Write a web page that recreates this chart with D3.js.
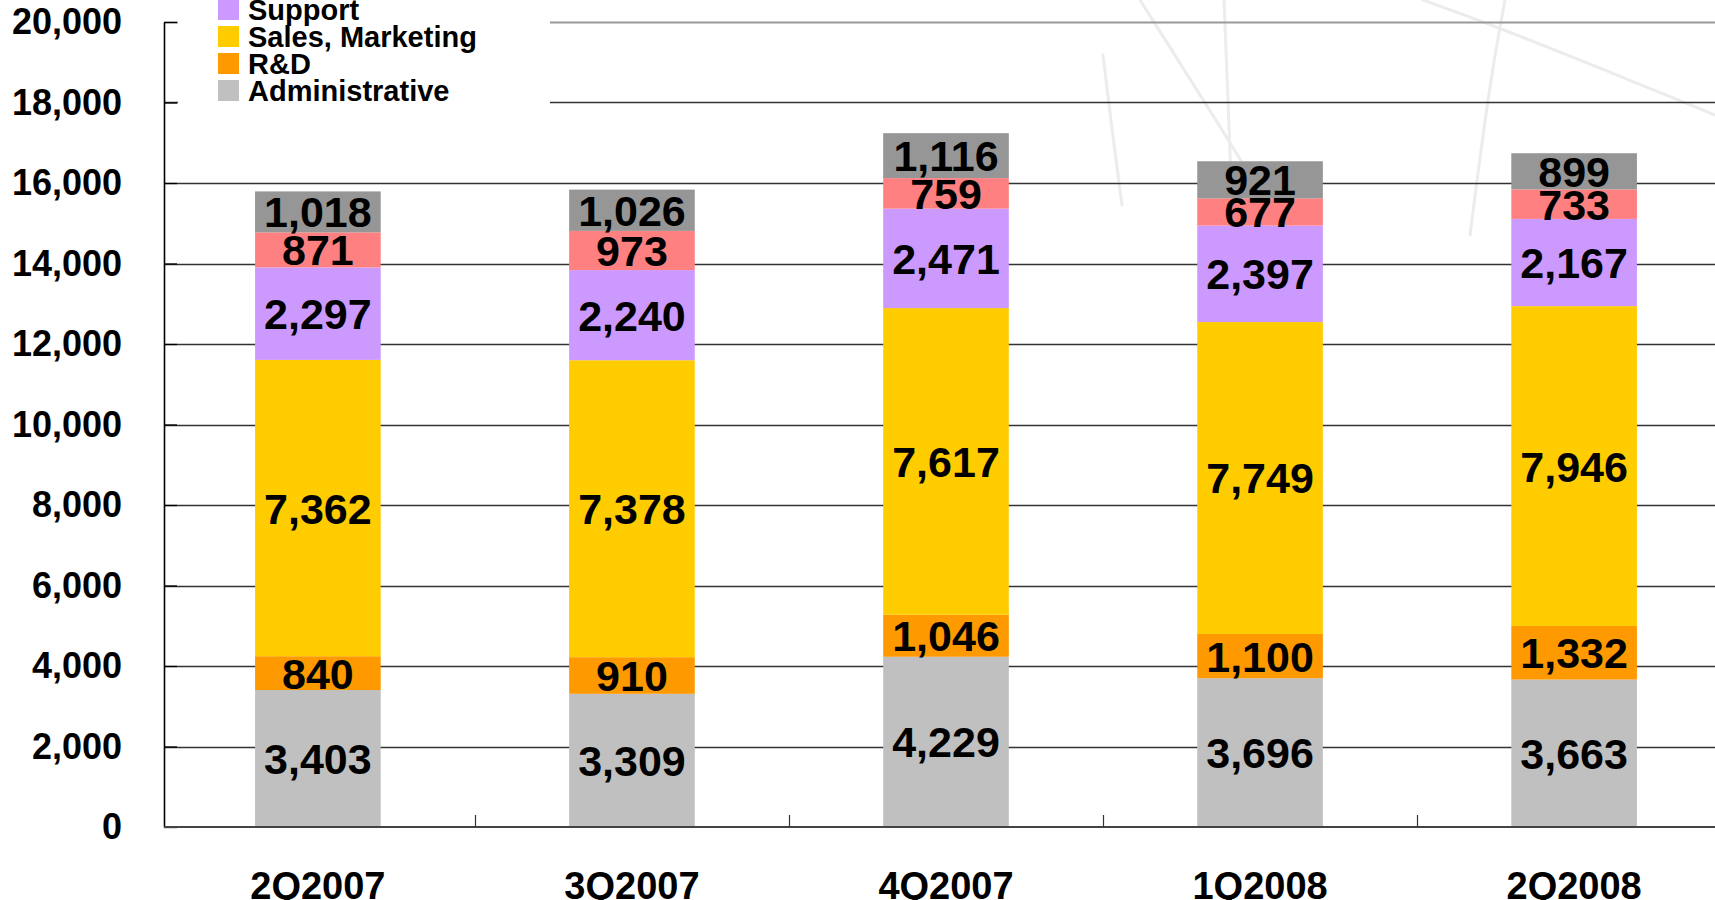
<!DOCTYPE html>
<html>
<head>
<meta charset="utf-8">
<script src="https://cdn.jsdelivr.net/npm/d3@7"></script>
<style>
  html, body { margin: 0; padding: 0; background: #fff; }
  svg { display: block; }
  text { font-family: "Liberation Sans", Arial, sans-serif; font-weight: bold; fill: #000; }
</style>
</head>
<body>
<svg id="chart" width="1715" height="900"></svg>
<script>
// ---- data ----
const categories = ["2Q2007", "3Q2007", "4Q2007", "1Q2008", "2Q2008"];
const administrative = [3403, 3309, 4229, 3696, 3663];
const rnd            = [840, 910, 1046, 1100, 1332];
const salesMarketing = [7362, 7378, 7617, 7749, 7946];
const support        = [2297, 2240, 2471, 2397, 2167];
const seriesPink     = [871, 973, 759, 677, 733];   // legend entry cut off in source
const seriesGrey     = [1018, 1026, 1116, 921, 899]; // legend entry cut off in source
const yTicks = [0, 2000, 4000, 6000, 8000, 10000, 12000, 14000, 16000, 18000, 20000];

const seriesKeys   = ["Administrative", "R&D", "Sales, Marketing", "Support", "S5", "S6"];
const seriesValues = [administrative, rnd, salesMarketing, support, seriesPink, seriesGrey];
const seriesColors = ["#C0C0C0", "#FF9900", "#FFCC00", "#CC99FF", "#FF8080", "#969696"];
const legendKeys   = ["Support", "Sales, Marketing", "R&D", "Administrative"];

// decorative background strokes (watermark)
const bgStrokes = [
  [[1423, 0], [1500, 28], [1600, 68], [1715, 115]],
  [[1505, 0], [1490, 80], [1470, 235]],
  [[1140, 0], [1210, 110], [1290, 240]],
  [[1224, 0], [1228, 100], [1232, 205]],
  [[1103, 55], [1112, 130], [1122, 205]]
];

// ---- build table ----
const table = categories.map((c, i) => {
  const row = { category: c };
  seriesKeys.forEach((k, j) => row[k] = seriesValues[j][i]);
  return row;
});
const stacked = d3.stack().keys(seriesKeys)(table);
const color = d3.scaleOrdinal().domain(seriesKeys).range(seriesColors);

// ---- layout ----
const svg = d3.select("#chart");
const x0 = 164, x1 = 1728, xRight = 1715;
const x = d3.scaleBand().domain(categories).range([x0, x1]).paddingInner(0.6).paddingOuter(0.29);
const y = d3.scaleLinear().domain([0, 20000]).range([827, 22]);

// background strokes
svg.append("g").selectAll("path").data(bgStrokes).join("path")
  .attr("d", d3.line().curve(d3.curveBasis))
  .attr("fill", "none").attr("stroke", "#ececec").attr("stroke-width", 3)
  .attr("stroke-linecap", "round");

// gridlines
svg.append("g").selectAll("line").data(yTicks.filter(d => d > 0)).join("line")
  .attr("x1", x0).attr("x2", xRight)
  .attr("y1", d => Math.round(y(d)) + 0.5).attr("y2", d => Math.round(y(d)) + 0.5)
  .attr("stroke", d => d === 20000 ? "#999" : "#333")
  .attr("stroke-width", d => d === 20000 ? 2 : 1.3);

// legend background (covers gridlines)
svg.append("rect").attr("x", 178).attr("y", 0).attr("width", 372).attr("height", 112).attr("fill", "#fff");

// bars
const layers = svg.append("g").selectAll("g").data(stacked).join("g")
  .attr("fill", d => color(d.key));
layers.selectAll("rect").data(d => d).join("rect")
  .attr("x", d => x(d.data.category))
  .attr("width", x.bandwidth())
  .attr("y", d => y(d[1]))
  .attr("height", d => y(d[0]) - y(d[1]));

// value labels
const fmt = d3.format(",");
const lbl = svg.append("g");
stacked.forEach(layer => {
  lbl.selectAll(null).data(layer).join("text")
    .attr("x", d => x(d.data.category) + x.bandwidth() / 2)
    .attr("y", d => y((d[0] + d[1]) / 2))
    .attr("dy", "0.36em")
    .attr("text-anchor", "middle")
    .style("font-size", "43px")
    .text(d => fmt(d[1] - d[0]));
});

// y axis
const yAxis = svg.append("g").attr("transform", `translate(${x0},0)`)
  .call(d3.axisLeft(y).tickValues(yTicks).tickFormat(fmt)
    .tickSizeInner(-13).tickSizeOuter(0).tickPadding(42));
yAxis.select(".domain").attr("stroke", "#000").attr("stroke-width", 1.6);
yAxis.selectAll(".tick line").attr("stroke", "#000").attr("stroke-width", 1.3);
yAxis.selectAll(".tick text").style("font-size", "36px")
  .style("font-family", "'Liberation Sans', Arial, sans-serif").style("font-weight", "bold").attr("fill", "#000");

// x axis
const xAxis = svg.append("g").attr("transform", `translate(0,${y(0)})`)
  .call(d3.axisBottom(x).tickSize(0).tickPadding(45));
xAxis.select(".domain").attr("d", `M${x0},0H${xRight}`).attr("stroke", "#444").attr("stroke-width", 2);
xAxis.selectAll(".tick text").style("font-size", "38px")
  .style("font-family", "'Liberation Sans', Arial, sans-serif").style("font-weight", "bold").attr("fill", "#000");
// inter-category tick marks
xAxis.append("g").selectAll("line").data(categories.slice(1)).join("line")
  .attr("x1", d => Math.round(x(d) - x.step() * x.paddingInner() / 2) + 0.5)
  .attr("x2", d => Math.round(x(d) - x.step() * x.paddingInner() / 2) + 0.5)
  .attr("y1", 0).attr("y2", -12)
  .attr("stroke", "#333").attr("stroke-width", 1.2);

// legend
const legend = svg.append("g").selectAll("g").data(legendKeys).join("g")
  .attr("transform", (d, i) => `translate(218,${9.5 + i * 27})`);
legend.append("rect").attr("x", 0).attr("y", -10.5).attr("width", 21).attr("height", 21)
  .attr("fill", d => color(d));
legend.append("text").attr("x", 30).attr("dy", "0.36em").style("font-size", "29px").text(d => d);
</script>
</body>
</html>
